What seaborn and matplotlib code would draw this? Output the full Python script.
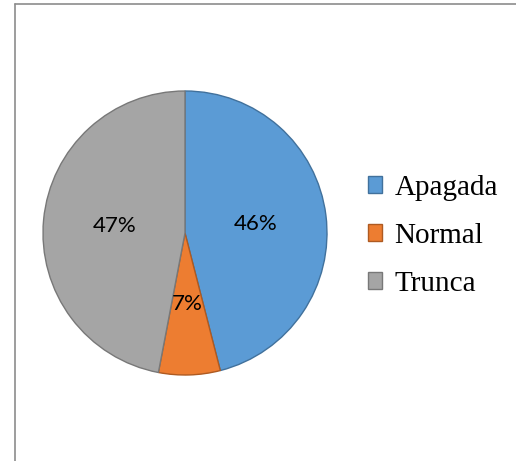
import matplotlib
matplotlib.use("Agg")
import matplotlib.pyplot as plt
import seaborn as sns
from matplotlib.patches import Patch
from matplotlib.lines import Line2D

# Data
categories = ["Apagada", "Normal", "Trunca"]
shares = [46, 7, 47]

sns.set_theme(style="white")
plt.rcParams["font.family"] = ["Lato", "DejaVu Sans"]
plt.rcParams["text.color"] = "black"

fill_colors = ["#5B9BD5", "#ED7D31", "#A5A5A5"]
edge_colors = ["#41719C", "#AE5A21", "#787878"]

W, H = 516, 461
fig = plt.figure(figsize=(W / 100, H / 100), dpi=100)
fig.patch.set_facecolor("white")

# pie area: centre (185, 233) px, radius 142 px
cx, cy, r = 185, 233, 142
ax = fig.add_axes([(cx - r) / W, (H - cy - r) / H, 2 * r / W, 2 * r / H])

wedges, texts, autotexts = ax.pie(
    shares,
    colors=fill_colors,
    startangle=90,
    counterclock=False,
    radius=1.0,
    autopct=lambda p: f"{p:.0f}%",
    pctdistance=0.5,
    wedgeprops=dict(linewidth=1.0),
    textprops=dict(fontsize=16, color="black"),
)
for w, ec in zip(wedges, edge_colors):
    w.set_edgecolor(ec)
    w.set_clip_on(False)
ax.set_xlim(-1, 1)
ax.set_ylim(-1, 1)
ax.set_aspect("equal")
ax.axis("off")

# legend
handles = [Patch(facecolor=fc, edgecolor=ec, linewidth=1.0) for fc, ec in zip(fill_colors, edge_colors)]
leg = fig.legend(
    handles, categories,
    loc="center left",
    bbox_to_anchor=(356 / W, (H - 236) / H),
    frameon=False,
    prop=dict(family="Liberation Serif", size=21),
    handlelength=0.5, handleheight=0.5,
    handletextpad=0.42,
    labelspacing=0.75,
    borderaxespad=0.0,
)
for t in leg.get_texts():
    t.set_color("black")

# chart border (left and top edges)
border = "#8C8C8C"
fig.add_artist(Line2D([14.5 / W, 14.5 / W], [0, (H - 4.5) / H], color=border, lw=1.2, transform=fig.transFigure))
fig.add_artist(Line2D([14.5 / W, 1], [(H - 4.5) / H, (H - 4.5) / H], color=border, lw=1.2, transform=fig.transFigure))

fig.savefig("out.png", dpi=100, facecolor="white")
